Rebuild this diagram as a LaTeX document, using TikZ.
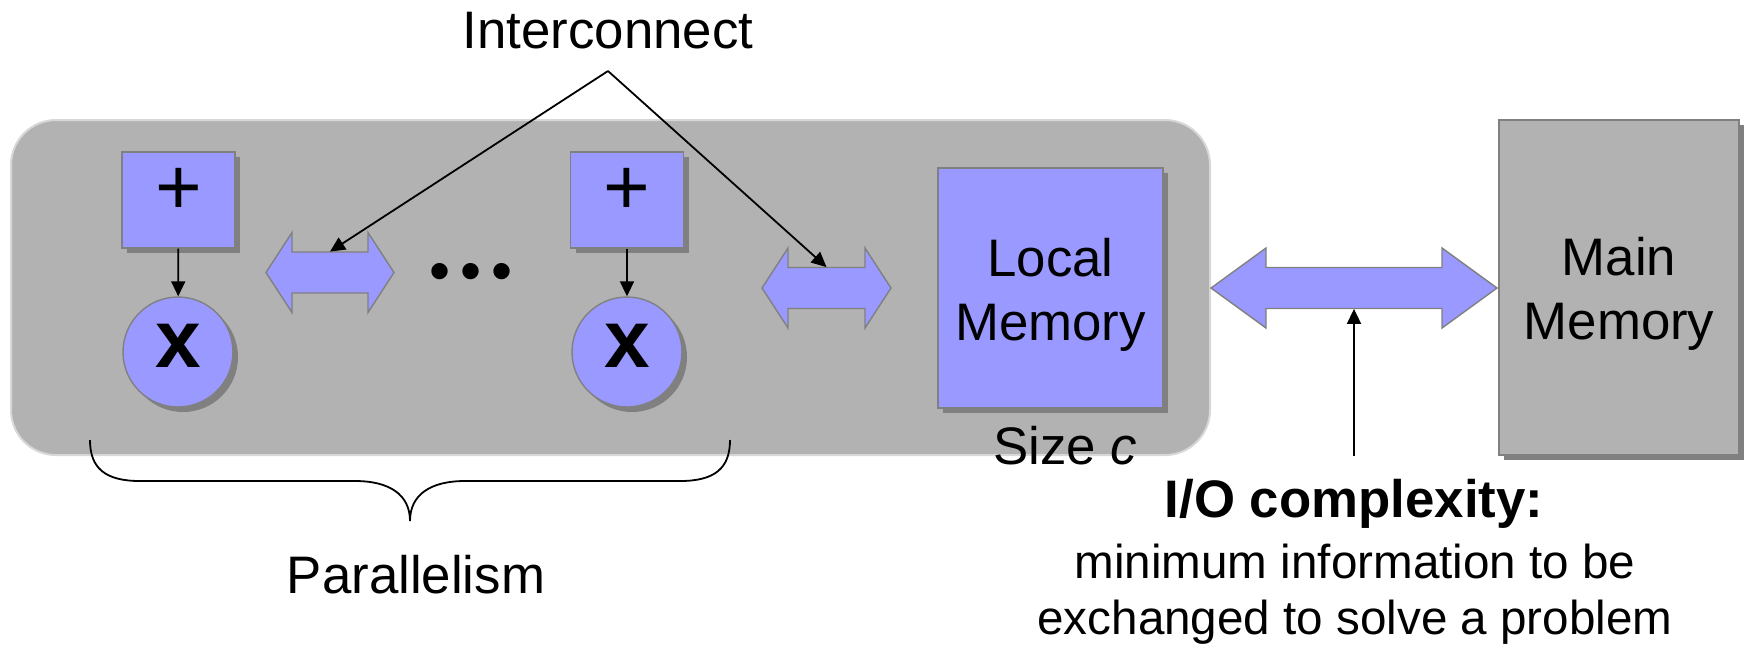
\documentclass[tikz,border=0pt]{standalone}
\usepackage{fontspec}
\setmainfont{Liberation Sans}
\usetikzlibrary{arrows.meta,shadows}

\definecolor{unitblue}{HTML}{9999FF}
\definecolor{chipgray}{HTML}{B2B2B2}
\definecolor{edgegray}{HTML}{808080}
\definecolor{rimgray}{HTML}{D8D8D8}

\newcommand\bigtext{\fontsize{26.4pt}{32pt}\selectfont}
\newcommand\smalltext{\fontsize{23.8pt}{28pt}\selectfont}

% double-headed block arrow: name, left tip x, right tip x, centre y, head length
\newcommand\dbarrow[5]{%
  \draw[blockarrow] (#2,#4) -- ({#2+#5},{#4-40}) -- ({#2+#5},{#4-20.5})
    -- ({#3-#5},{#4-20.5}) -- ({#3-#5},{#4-40}) -- (#3,#4)
    -- ({#3-#5},{#4+40}) -- ({#3-#5},{#4+20.5}) -- ({#2+#5},{#4+20.5})
    -- ({#2+#5},{#4+40}) -- cycle;
  \node[shaft, minimum width={(#3-#2-2*#5)*0.5pt}] (#1) at ({(#2+#3)/2},#4) {};
}

\begin{document}
\begin{tikzpicture}[x=0.5pt, y=-0.5pt,
  boxshadow/.style={drop shadow={shadow xshift=2.5pt, shadow yshift=-2.5pt,
      fill=edgegray, opacity=1}},
  chip/.style={rectangle, rounded corners=22.5pt, fill=chipgray, draw=rimgray,
      line width=1pt, minimum width=599.5pt, minimum height=167.5pt, inner sep=0pt},
  addbox/.style={rectangle, fill=unitblue, draw=edgegray, line width=0.7pt,
      minimum width=56.5pt, minimum height=48pt, inner sep=0pt, boxshadow},
  mulcircle/.style={circle, fill=unitblue, draw=edgegray, line width=0.7pt,
      minimum size=55pt, inner sep=0pt, boxshadow},
  membox/.style={rectangle, draw=edgegray, line width=0.7pt, inner sep=0pt, boxshadow},
  memtext/.style={font=\bigtext, align=center, inner sep=0pt, yshift=-3.2pt},
  sign/.style={font=\fontsize{40pt}{40pt}\selectfont, inner sep=0pt},
  mulsign/.style={font=\fontsize{41pt}{41pt}\selectfont\bfseries, inner sep=0pt},
  blockarrow/.style={fill=unitblue, draw=edgegray, line width=0.7pt, line join=miter},
  shaft/.style={rectangle, draw=none, inner sep=0pt, minimum height=20.5pt},
  conn/.style={draw=black, line width=0.9pt, -{Triangle[length=7.5pt,width=7pt]}},
  thin/.style={draw=black, line width=0.9pt},
  label text/.style={font=\bigtext, inner sep=0pt}
]
\useasboundingbox (0,0) rectangle (1750,645);

% on-chip region
\node[chip] (chip) at (610.5,287.5) {};

% processing units
\node[addbox, label={[sign, yshift=4.5pt]center:+}] (add1) at (178.5,200) {};
\node[mulcircle, label={[mulsign, yshift=3pt]center:x}] (mul1) at (178,352) {};
\node[addbox, label={[sign, yshift=4.5pt]center:+}] (add2) at (627,200) {};
\node[mulcircle, label={[mulsign, yshift=3pt]center:x}] (mul2) at (627,352) {};
\draw[conn] (add1) -- (mul1);
\draw[conn] (add2) -- (mul2);

\node[font=\fontsize{30pt}{30pt}\selectfont, inner sep=0pt] (dots) at (471,277)
  {•\kern5.2pt•\kern5.2pt•};

% interconnect arrows
\dbarrow{ic1}{266}{394}{272.5}{26}
\dbarrow{ic2}{762}{891}{288}{26}

% memories
\node[membox, fill=unitblue, minimum width=112.5pt, minimum height=120pt,
  label={[memtext]center:Local\\Memory}] (local) at (1050.5,288) {};
\node[label text] (size) at (1065,446) {Size \textit{c}};

\node[membox, fill=chipgray, minimum width=120pt, minimum height=167.5pt,
  label={[memtext]center:Main\\Memory}] (main) at (1619,287.5) {};

\dbarrow{bus}{1211}{1497}{288}{55}

% interconnect callout
\node[label text] (ictext) at (608,31) {Interconnect};
\coordinate (apex) at (608,71);
\draw[conn] (apex) -- (ic1.north);
\draw[conn] (apex) -- (ic2.north);

% I/O complexity callout
\coordinate (iofoot) at (1354,456);
\draw[conn] (iofoot) -- (bus.south);
\node[font=\bigtext\bfseries, inner sep=0pt] (iotitle) at (1354,504) {I/O complexity:};
\node[font=\smalltext, inner sep=0pt] (iodesc1) at (1355,561) {minimum information to be};
\node[font=\smalltext, inner sep=0pt] (iodesc2) at (1355,622) {exchanged to solve a problem};

% parallelism brace
\draw[thin] (90,440) .. controls (90,468) and (105,481) .. (140,481) -- (355,481)
  .. controls (390,481) and (410,495) .. (410,521)
  .. controls (410,495) and (430,481) .. (465,481) -- (680,481)
  .. controls (715,481) and (730,468) .. (730,440);
\node[label text] (partext) at (416,575) {Parallelism};
\end{tikzpicture}
\end{document}
